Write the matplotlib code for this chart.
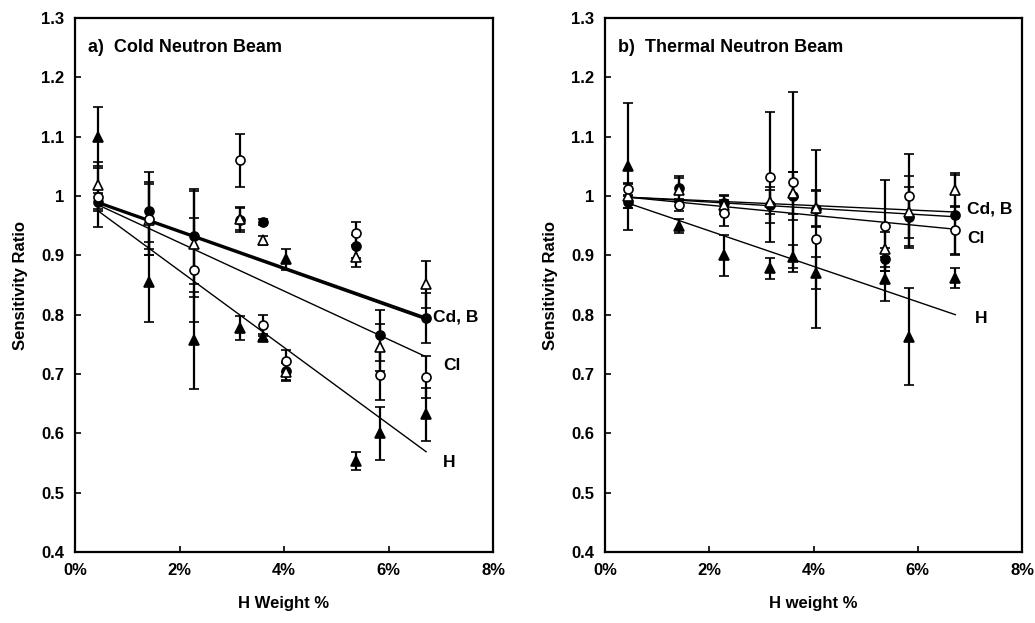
import matplotlib
matplotlib.use("Agg")
import matplotlib.pyplot as plt
from matplotlib.ticker import FuncFormatter, MultipleLocator

plt.rcParams['font.family'] = ['Liberation Sans', 'DejaVu Sans']
plt.rcParams['font.weight'] = 'bold'

# H weight % of the samples
h_wt = [0.44, 1.42, 2.28, 3.16, 3.6, 4.04, 5.38, 5.83, 6.72]

# a) cold neutron beam: sensitivity ratios and errors
cold_cd = [0.99, 0.975, 0.932, 0.96, 0.956, 0.705, 0.915, 0.765, 0.794]
cold_cd_err = [0.015, 0.065, 0.08, 0.02, 0.005, 0.015, 0.02, 0.043, 0.042]
cold_b = [1.018, 0.96, 0.919, 0.962, 0.925, 0.703, 0.898, 0.745, 0.851]
cold_b_err = [0.04, 0.06, 0.09, 0.02, 0.008, 0.015, 0.017, 0.04, 0.04]
cold_cl = [0.998, 0.962, 0.875, 1.06, 0.782, 0.722, 0.937, 0.698, 0.695]
cold_cl_err = [0.05, 0.062, 0.088, 0.044, 0.018, 0.018, 0.02, 0.041, 0.035]
cold_h = [1.10, 0.855, 0.757, 0.778, 0.763, 0.893, 0.553, 0.60, 0.632]
cold_h_err = [0.05, 0.067, 0.082, 0.02, 0.005, 0.017, 0.015, 0.045, 0.045]

# b) thermal neutron beam
therm_cd = [0.99, 1.013, 0.988, 0.985, 1.0, 0.978, 0.893, 0.965, 0.968]
therm_cd_err = [0.01, 0.02, 0.013, 0.03, 0.04, 0.03, 0.02, 0.05, 0.068]
therm_b = [1.0, 1.01, 0.985, 0.99, 1.005, 0.98, 0.91, 0.973, 1.01]
therm_b_err = [0.02, 0.02, 0.015, 0.02, 0.035, 0.03, 0.03, 0.06, 0.028]
therm_cl = [1.012, 0.985, 0.972, 1.032, 1.024, 0.927, 0.95, 1.0, 0.943]
therm_cl_err = [0.01, 0.01, 0.022, 0.11, 0.152, 0.15, 0.077, 0.07, 0.04]
therm_h = [1.05, 0.95, 0.90, 0.878, 0.898, 0.87, 0.86, 0.763, 0.862]
therm_h_err = [0.107, 0.012, 0.035, 0.018, 0.02, 0.027, 0.037, 0.082, 0.017]

# fitted lines, end points
fit_x = [0.44, 6.72]
cold_fit = {'Cd': [0.99, 0.795], 'B': [0.988, 0.792], 'Cl': [0.985, 0.729], 'H': [0.975, 0.569]}
therm_fit = {'Cd': [0.998, 0.973], 'B': [0.998, 0.965], 'Cl': [0.998, 0.944], 'H': [0.988, 0.80]}

fig = plt.figure(figsize=(10.35, 6.23), dpi=100)
ax1 = fig.add_axes([75/1035, 1-552/623, 418/1035, 534/623])
ax2 = fig.add_axes([605/1035, 1-552/623, 417/1035, 534/623])


def draw(ax, series, fits, fit_lw, title, xlab, labels):
    styles = [('o', 'black'), ('^', 'white'), ('o', 'white'), ('^', 'black')]
    for (y, e), (m, fc) in zip(series, styles):
        ax.errorbar(h_wt, y, yerr=e, fmt=m, mfc=fc, mec='black', ms=6.5,
                    mew=1.2, ecolor='black', elinewidth=1.6, capsize=3.5,
                    capthick=1.3, zorder=3)
    for k, v in fits.items():
        ax.plot(fit_x, v, color='black', lw=fit_lw[k], zorder=2)
    for txt, (tx, ty) in labels.items():
        ax.text(tx, ty, txt, fontsize=12.5, fontweight='bold', va='center', ha='left')
    ax.text(0.25, 1.25, title, fontsize=13, fontweight='bold', va='center', ha='left')
    ax.set_xlim(0, 8)
    ax.set_ylim(0.4, 1.3)
    ax.xaxis.set_major_locator(MultipleLocator(2))
    ax.yaxis.set_major_locator(MultipleLocator(0.1))
    ax.xaxis.set_major_formatter(FuncFormatter(lambda v, p: f"{v:.0f}%"))
    ax.yaxis.set_major_formatter(FuncFormatter(lambda v, p: "1" if abs(v - 1) < 1e-6 else f"{v:.1f}"))
    ax.tick_params(direction='in', length=4, width=1.2, labelsize=12, pad=8)
    for s in ax.spines.values():
        s.set_linewidth(1.6)
    ax.set_xlabel(xlab, fontsize=12, fontweight='bold', labelpad=13)
    ax.set_ylabel('Sensitivity Ratio', fontsize=12, fontweight='bold', labelpad=9)


draw(ax1,
     [(cold_cd, cold_cd_err), (cold_b, cold_b_err), (cold_cl, cold_cl_err), (cold_h, cold_h_err)],
     cold_fit, {'Cd': 1.5, 'B': 1.5, 'Cl': 1.0, 'H': 1.0},
     'a)  Cold Neutron Beam', 'H Weight %',
     {'Cd, B': (6.85, 0.796), 'Cl': (7.05, 0.715), 'H': (7.05, 0.55)})
draw(ax2,
     [(therm_cd, therm_cd_err), (therm_b, therm_b_err), (therm_cl, therm_cl_err), (therm_h, therm_h_err)],
     therm_fit, {'Cd': 1.0, 'B': 1.0, 'Cl': 1.0, 'H': 1.0},
     'b)  Thermal Neutron Beam', 'H weight %',
     {'Cd, B': (6.95, 0.978), 'Cl': (6.95, 0.929), 'H': (7.1, 0.794)})

fig.savefig('out.png', dpi=100)
